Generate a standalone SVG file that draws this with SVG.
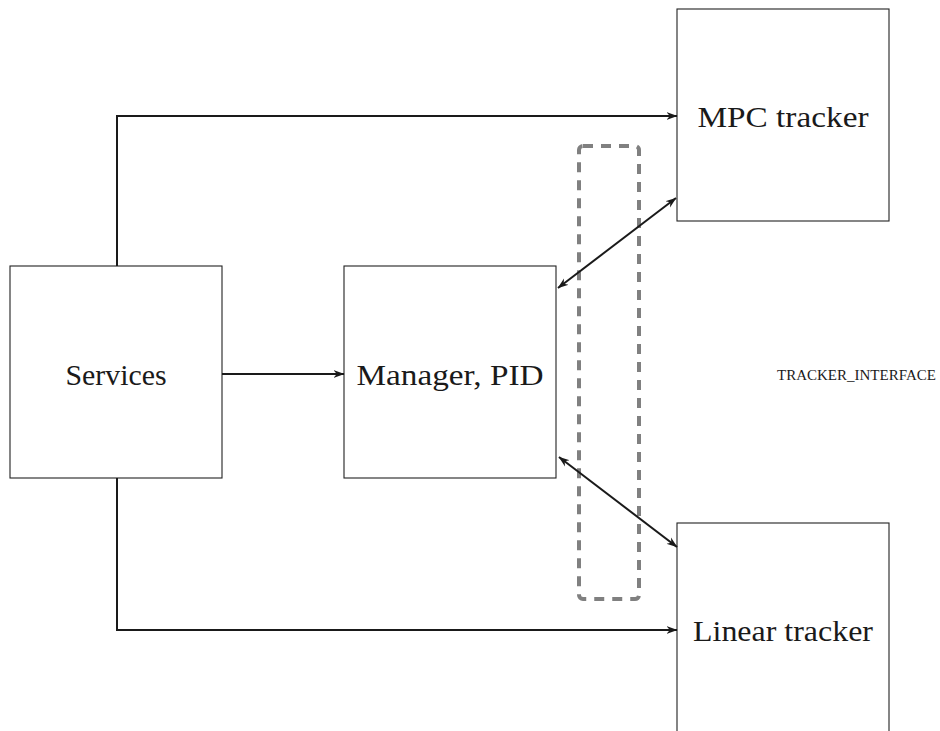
<svg xmlns="http://www.w3.org/2000/svg" width="940" height="731" viewBox="0 0 940 731">
<defs>
<marker id="ah" viewBox="0 0 10 10" refX="9.5" refY="5" markerWidth="11" markerHeight="11" orient="auto-start-reverse" markerUnits="userSpaceOnUse">
<path d="M0,1.5 L10,5 L0,8.5 L3,5 Z" fill="#1a1a1a"/>
</marker>
<style>
.box{fill:#fff;stroke:#222;stroke-width:1.1}
.lbl{font-family:'Liberation Serif','Times New Roman',serif;font-size:30px;fill:#1a1a1a;text-anchor:middle}
.con{fill:none;stroke:#1a1a1a;stroke-width:2}
</style>
</defs>
<rect width="940" height="731" fill="#fff"/>
<rect id="interface" x="579" y="146" width="60" height="453" rx="4" fill="none" stroke="#808080" stroke-width="4" stroke-dasharray="10,8"/>
<g id="services"><rect class="box" x="10" y="266" width="212" height="212"/><text class="lbl" x="116" y="385" textLength="101" lengthAdjust="spacingAndGlyphs">Services</text></g>
<g id="manager"><rect class="box" x="344" y="266" width="212" height="212"/><text class="lbl" x="450" y="385" textLength="187" lengthAdjust="spacingAndGlyphs">Manager, PID</text></g>
<g id="mpc"><rect class="box" x="677" y="9" width="212" height="212"/><text class="lbl" x="783" y="127" textLength="171" lengthAdjust="spacingAndGlyphs">MPC tracker</text></g>
<g id="linear"><rect class="box" x="677" y="523" width="212" height="220"/><text class="lbl" x="783" y="641" textLength="180" lengthAdjust="spacingAndGlyphs">Linear tracker</text></g>
<text id="iface-label" x="777" y="380" font-family="'Liberation Serif',serif" font-size="15" fill="#1a1a1a">TRACKER_INTERFACE</text>
<g id="connectors">
<path class="con" d="M117,266 V116 H677" marker-end="url(#ah)"/>
<path class="con" d="M222,374 H344" marker-end="url(#ah)"/>
<path class="con" d="M117,478 V630 H677" marker-end="url(#ah)"/>
<path class="con" d="M558,288 L676,198" marker-start="url(#ah)" marker-end="url(#ah)"/>
<path class="con" d="M559,457 L677,547" marker-start="url(#ah)" marker-end="url(#ah)"/>
</g>
</svg>
